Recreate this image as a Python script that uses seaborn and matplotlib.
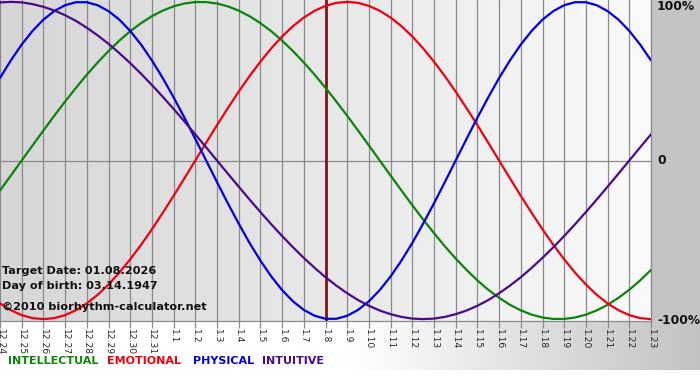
import matplotlib
matplotlib.use("Agg")
import numpy as np
import pandas as pd
import seaborn as sns
import matplotlib.pyplot as plt
from matplotlib.colors import LinearSegmentedColormap
from matplotlib.patches import Rectangle

day_labels = ["12.24", "12.25", "12.26", "12.27", "12.28", "12.29", "12.30", "12.31",
              "1.1", "1.2", "1.3", "1.4", "1.5", "1.6", "1.7", "1.8", "1.9", "1.10",
              "1.11", "1.12", "1.13", "1.14", "1.15", "1.16", "1.17", "1.18", "1.19",
              "1.20", "1.21", "1.22", "1.23"]

# readings every half day, 12.24 .. 1.23 (fraction of 100%)
intellectual = [-0.189, -0.095, 0.000, 0.095, 0.189, 0.282, 0.372, 0.458, 0.541, 0.618,
                0.690, 0.756, 0.815, 0.866, 0.910, 0.945, 0.972, 0.990, 0.999, 0.999,
                0.990, 0.972, 0.945, 0.910, 0.866, 0.815, 0.756, 0.690, 0.618, 0.541,
                0.458, 0.372, 0.282, 0.189, 0.095, 0.000, -0.095, -0.189, -0.282,
                -0.372, -0.458, -0.541, -0.618, -0.690, -0.756, -0.815, -0.866, -0.910,
                -0.945, -0.972, -0.990, -0.999, -0.999, -0.990, -0.972, -0.945, -0.910,
                -0.866, -0.815, -0.756, -0.690]
emotional = [-0.901, -0.944, -0.975, -0.994, -1.000, -0.994, -0.975, -0.944, -0.901,
             -0.847, -0.782, -0.707, -0.623, -0.532, -0.434, -0.330, -0.223, -0.112,
             0.000, 0.112, 0.223, 0.330, 0.434, 0.532, 0.623, 0.707, 0.782, 0.847,
             0.901, 0.944, 0.975, 0.994, 1.000, 0.994, 0.975, 0.944, 0.901, 0.847,
             0.782, 0.707, 0.623, 0.532, 0.434, 0.330, 0.223, 0.112, 0.000, -0.112,
             -0.223, -0.330, -0.434, -0.532, -0.623, -0.707, -0.782, -0.847, -0.901,
             -0.944, -0.975, -0.994, -1.000]
physical = [0.520, 0.631, 0.731, 0.817, 0.888, 0.942, 0.979, 0.998, 0.998, 0.979, 0.942,
            0.888, 0.817, 0.731, 0.631, 0.520, 0.398, 0.270, 0.136, 0.000, -0.136,
            -0.270, -0.398, -0.520, -0.631, -0.731, -0.817, -0.888, -0.942, -0.979,
            -0.998, -0.998, -0.979, -0.942, -0.888, -0.817, -0.731, -0.631, -0.520,
            -0.398, -0.270, -0.136, 0.000, 0.136, 0.270, 0.398, 0.520, 0.631, 0.731,
            0.817, 0.888, 0.942, 0.979, 0.998, 0.998, 0.979, 0.942, 0.888, 0.817,
            0.731, 0.631]
intuitive = [0.997, 1.000, 0.997, 0.986, 0.969, 0.946, 0.916, 0.880, 0.837, 0.789, 0.736,
             0.677, 0.614, 0.547, 0.476, 0.402, 0.325, 0.246, 0.165, 0.083, 0.000,
             -0.083, -0.165, -0.246, -0.325, -0.402, -0.476, -0.547, -0.614, -0.677,
             -0.736, -0.789, -0.837, -0.880, -0.916, -0.946, -0.969, -0.986, -0.997,
             -1.000, -0.997, -0.986, -0.969, -0.946, -0.916, -0.880, -0.837, -0.789,
             -0.736, -0.677, -0.614, -0.547, -0.476, -0.402, -0.325, -0.246, -0.165,
             -0.083, 0.000, 0.083, 0.165]

series_names = ["INTELLECTUAL", "EMOTIONAL", "PHYSICAL", "INTUITIVE"]
series_colors = ["#0b840b", "#ee0011", "#0000dd", "#4b0a8a"]
target_day = "1.8"
target_text = "Target Date: 01.08.2026"
birth_text = "Day of birth: 03.14.1947"
credit_text = "\u00a92010 biorhythm-calculator.net"
level_labels = ["100%", "0", "-100%"]

W, H = 700, 380

rows = []
for name, vals in zip(series_names, [intellectual, emotional, physical, intuitive]):
    for i, v in enumerate(vals):
        rows.append({"day": i / 2, "value": v, "series": name})
df = pd.DataFrame(rows)

sns.set_theme(style="white")
plt.rcParams["font.family"] = ["DejaVu Sans"]

fig = plt.figure(figsize=(7, 3.8), dpi=100)
fig.patch.set_facecolor("white")

# background pieces, pixel coords
bg = fig.add_axes([0, 0, 1, 1], zorder=-5)
bg.imshow(np.linspace(0, 1, 256)[None, :],
          cmap=LinearSegmentedColormap.from_list("bottom", ["#ffffff", "#ffffff", "#c2c2c2"]),
          extent=(0, W, 370, 321), aspect="auto")
bg.add_patch(Rectangle((651, 0), W - 651, 321, color="#c4c4c4"))
bg.set_xlim(0, W)
bg.set_ylim(H, 0)
bg.axis("off")

ax = fig.add_axes([0, 1 - 321 / H, 651 / W, 321 / H])
ax.set_facecolor("none")
ax.imshow(np.linspace(0, 1, 256)[None, :],
          cmap=LinearSegmentedColormap.from_list("plot", ["#d6d6d6", "#fafafa"]),
          extent=(0, len(day_labels) - 1, -1.012, 1.012), aspect="auto", zorder=0)

ax.axvline(day_labels.index(target_day), color="#7c1616", lw=2.0, zorder=1.5)
sns.lineplot(data=df, x="day", y="value", hue="series", hue_order=series_names,
             palette=series_colors, legend=False, ax=ax, linewidth=1.6, zorder=3)

ax.set_xlim(0, len(day_labels) - 1)
ax.set_ylim(-1.012, 1.012)
ax.set_xticks(range(len(day_labels)))
ax.set_xticklabels(day_labels)
ax.set_yticks([])
ax.grid(axis="x", color="#8a8a8a", lw=0.9)
ax.axhline(0, color="#8a8a8a", lw=0.9, zorder=1)
ax.tick_params(axis="x", direction="out", length=5, width=0.9, color="#8a8a8a",
               labelsize=6.6, pad=1, bottom=True)
for lab in ax.get_xticklabels():
    lab.set_rotation(270)
    lab.set_ha("center")
    lab.set_va("top")
ax.set_xlabel("")
ax.set_ylabel("")
for side in ["left", "top"]:
    ax.spines[side].set_visible(False)
for side in ["right", "bottom"]:
    ax.spines[side].set_color("#8a8a8a")
    ax.spines[side].set_linewidth(0.9)


def fx(x):
    return x / W


def fy(y):
    return 1 - y / H


for lab, y in zip(level_labels, [7, 161, 321]):
    fig.text(fx(657), fy(y), lab, ha="left", va="center", fontsize=8.8, fontweight="bold",
             color="#111111")

for txt, y in zip([target_text, birth_text, credit_text], [271, 286, 307]):
    fig.text(fx(2), fy(y), txt, ha="left", va="center", fontsize=8.1, fontweight="bold",
             color="#111111")

for name, col, x in zip(series_names, series_colors, [8, 107, 193, 262]):
    fig.text(fx(x), fy(361), name, ha="left", va="center", fontsize=8.0,
             fontweight="bold", color=col)

fig.savefig("out.png", dpi=100)
